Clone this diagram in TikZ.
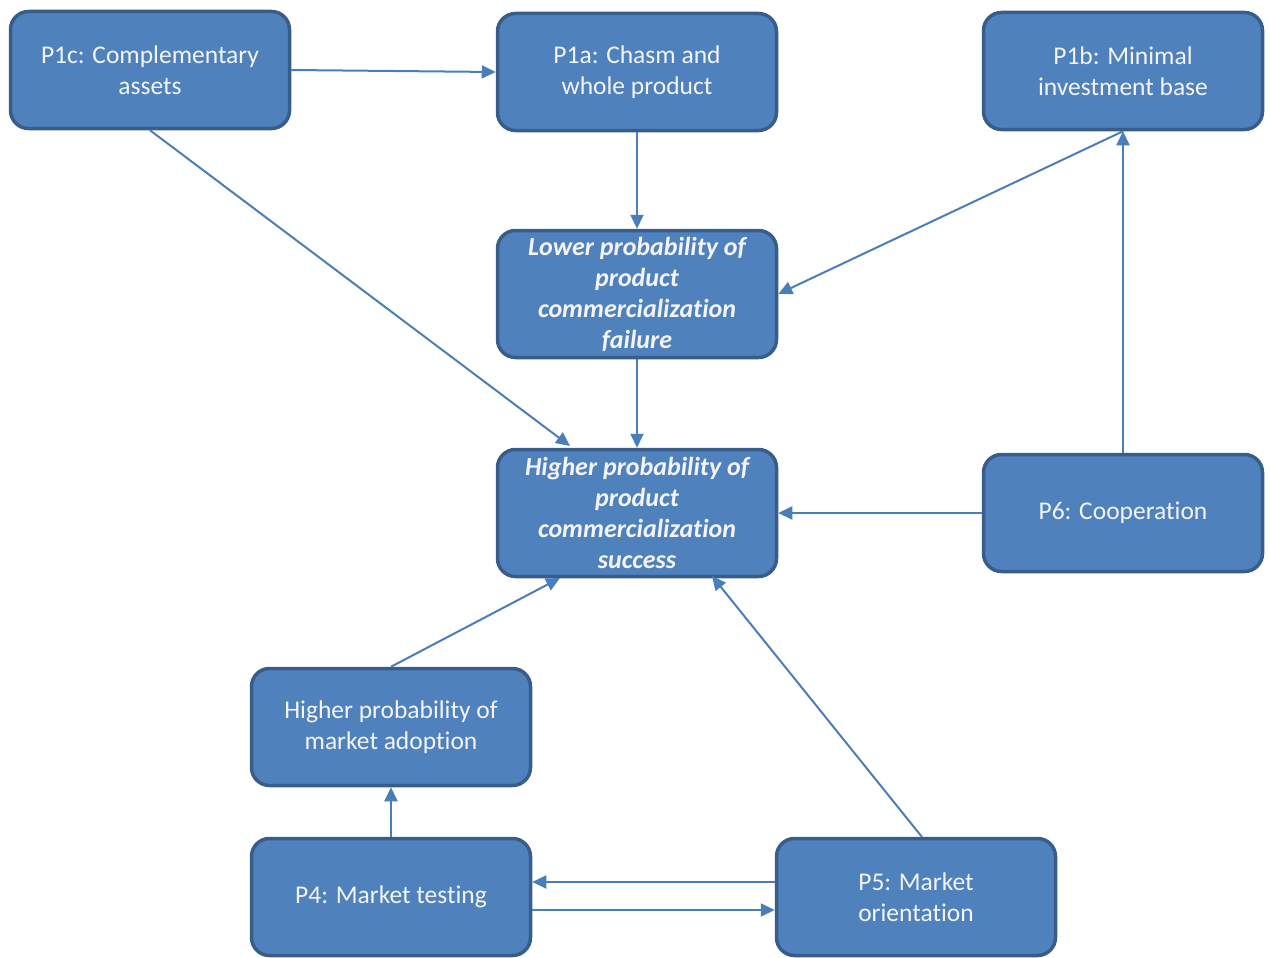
\documentclass[tikz,border=0pt]{standalone}
\usepackage{fontspec}
\setmainfont{Carlito}[Ligatures=NoCommon]
\usetikzlibrary{arrows.meta}
\definecolor{boxfill}{HTML}{4F81BD}
\definecolor{boxedge}{HTML}{385D8A}
\definecolor{linkcol}{HTML}{4A7EBB}
\definecolor{boxtext}{HTML}{F4F4F4}
\begin{document}
\begin{tikzpicture}[x=1pt,y=-1pt,
  box/.style={draw=boxedge, fill=boxfill, line width=3.5pt, rounded corners=18pt,
    minimum width=279pt, minimum height=117pt, text=boxtext, align=center,
    font=\fontsize{25.5}{31}\selectfont, inner sep=0pt},
  keybox/.style={box, minimum height=127pt, font=\fontsize{26}{31}\selectfont\bfseries\itshape},
  link/.style={draw=linkcol, line width=2pt, -{Triangle[length=14pt,width=13pt]}}
]
\useasboundingbox (0,0) rectangle (1270,958);

% top row
\node[box] (p1c) at (150,70) {P1c: Complementary\\assets};
\node[box] (p1a) at (637,72) {P1a: Chasm and\\whole product};
\node[box] (p1b) at (1123,71) {P1b: Minimal\\investment base};

% outcomes
\node[keybox] (fail) at (637,294) {Lower probability of\\product\\commercialization\\failure};
\node[keybox] (succ) at (637,513) {Higher probability of\\product\\commercialization\\success};

% right and bottom
\node[box] (p6) at (1123,513) {P6: Cooperation};
\node[box] (adopt) at (391,727) {Higher probability of\\market adoption};
\node[box] (p4) at (391,897) {P4: Market testing};
\node[box] (p5) at (916,897) {P5: Market\\orientation};

% free ends on the edges of the outcome boxes
\coordinate (s1) at (570,446);
\coordinate (s2) at (560,578);
\coordinate (s3) at (712,576);
\coordinate (p5top) at (922,837);

% connectors
\draw[link] (p1c.east) -- (p1a.west);
\draw[link] (p1a.south) -- (fail.north);
\draw[link] (p1b.south) -- (fail.east);
\draw[link] (p1c.south) -- (s1);
\draw[link] (fail.south) -- (succ.north);
\draw[link] (p6.west) -- (succ.east);
\draw[link] (p6.north) -- (p1b.south);
\draw[link] (adopt.north) -- (s2);
\draw[link] (p5top) -- (s3);
\draw[link] (p4.north) -- (adopt.south);
\draw[link] (p5.west |- 0,882) -- (p4.east |- 0,882);
\draw[link] (p4.east |- 0,910) -- (p5.west |- 0,910);
\end{tikzpicture}
\end{document}
